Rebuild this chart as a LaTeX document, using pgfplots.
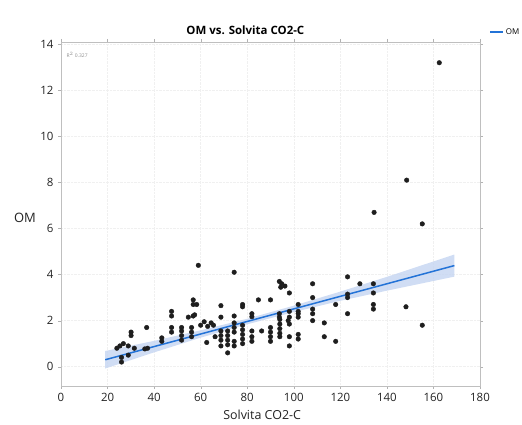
\documentclass[border=0pt]{standalone}
\usepackage{pgfplots}
\pgfplotsset{compat=1.18}
\usepgfplotslibrary{fillbetween}
\usepackage{fontspec}
\setmainfont{Open Sans}
\definecolor{fitblue}{RGB}{35,115,215}
\definecolor{bandblue}{RGB}{200,215,242}
\definecolor{dotc}{RGB}{30,30,30}
\definecolor{tickc}{RGB}{35,35,35}

\begin{document}
\begin{tikzpicture}
\begin{axis}[
  at={(61bp,39bp)}, anchor=south west,
  scale only axis, width=419bp, height=344bp,
  xmin=0, xmax=180, ymin=-0.84, ymax=14.1,
  xtick={0,20,...,180}, ytick={0,2,...,14},
  tick align=outside, major tick length=3bp,
  tick style={black!30},
  axis line style={black!25},
  grid=major, grid style={black!6, densely dotted},
  /pgf/number format/assume math mode=true,
  ticklabel style={font=\fontsize{11.5}{12}\selectfont, text=tickc},
  xticklabel style={yshift=-1bp},
  yticklabel style={xshift=-1bp},
  xlabel={Solvita CO2-C},
  xlabel style={at={(rel axis cs:0.48,-0.085)}, anchor=center, font=\fontsize{12.5}{14}\selectfont, text=tickc},
  ylabel={OM},
  ylabel style={rotate=-90, at={(rel axis cs:-0.086,0.488)}, anchor=center, font=\fontsize{13}{14}\selectfont, text=tickc},
  title={OM vs. Solvita CO2-C},
  title style={at={(rel axis cs:0.44,1)}, anchor=south, yshift=0bp, inner sep=1.5bp, font=\bfseries\fontsize{11.5}{12}\selectfont},
  legend style={at={(rel axis cs:1.022,1.029)}, anchor=west, draw=none, fill=none, font=\fontsize{8}{9}\selectfont, inner sep=0pt},
  legend image code/.code={\draw[#1] (0bp,0bp) -- (13bp,0bp);},
  clip=false,
]
% confidence band
\addplot[name path=upper, draw=none, forget plot] coordinates {
  (19,0.68) (40,1.12) (60,1.58) (80,2.08) (100,2.65) (120,3.26) (140,3.90) (169,4.87)};
\addplot[name path=lower, draw=none, forget plot] coordinates {
  (19,-0.08) (40,0.62) (60,1.26) (80,1.84) (100,2.37) (120,2.86) (140,3.30) (169,3.91)};
\addplot[bandblue, fill opacity=0.85, forget plot] fill between[of=upper and lower];
% data
\addplot[only marks, mark=*, mark size=2.3bp, mark options={fill=dotc, draw=dotc}, forget plot] coordinates {
 (24,0.8) (25.3,0.9) (26.8,1.0) (26,0.4) (26,0.2) (28.9,0.9) (28.9,0.5) (30.1,1.5) (30.1,1.35)
 (31.5,0.8) (36.8,1.7) (36,0.77) (37.2,0.8) (43.3,1.25) (43.3,1.1)
 (47.5,2.4) (47.5,2.2) (47.5,1.7) (47.5,1.5) (51.8,1.7) (51.8,1.55) (51.8,1.35) (51.8,1.15)
 (54.7,2.15) (56.8,2.2) (56.8,2.9) (56.8,2.7) (56.1,1.7) (56.1,1.5) (56.1,1.3) (57.4,2.25)
 (58.3,2.7) (59,4.4)
 (60,1.8) (61.5,1.95) (63,1.75) (64.5,1.9) (65.5,1.8) (62.6,1.05) (66.2,1.3)
 (68.7,2.65) (68.7,2.15) (68.7,1.55) (68.7,1.35) (68.7,1.15) (68.7,0.9)
 (71.6,1.55) (71.6,1.35) (71.6,1.15) (71.6,0.95) (71.6,0.6)
 (74.4,4.1) (74.4,2.2) (74.4,1.9) (74.4,1.7) (74.4,1.5) (74.4,1.1) (74.4,0.9)
 (78,2.7) (78,2.6) (78,1.8) (78,1.6) (78,1.4) (78,1.2) (78,1.0)
 (82,2.3) (82,2.17) (82,1.55) (82,1.3) (82,1.1) (84.8,2.9) (86.2,1.55)
 (90,2.9) (90,1.7) (90,1.5) (90,1.3) (90,1.1)
 (93.8,3.7) (94.8,3.6) (94.4,3.45) (93.8,2.3) (93.8,2.15) (94,2.05) (94,1.85) (94,1.65)
 (94,1.45) (94,1.3) (96.2,3.5) (98.1,3.2) (98.1,2.4) (98.1,2.15) (98.1,1.85) (98.1,1.3)
 (98.1,0.9) (97.6,2.0)
 (101.9,2.7) (101.9,2.4) (101.9,2.3) (101.9,2.15) (101.9,1.4) (101.9,1.2)
 (108.1,3.6) (108.1,3.0) (108.1,2.5) (108.1,2.3) (108.1,2.0)
 (113.1,1.9) (113.1,1.3) (118,2.7) (118,1.1)
 (123.1,3.9) (123.1,3.15) (123.1,3.0) (123.1,2.3) (128.4,3.6)
 (134.2,3.6) (134.2,3.2) (134.2,2.7) (134.2,2.5) (134.5,6.7)
 (148.2,2.6) (148.5,8.1) (155.2,6.2) (155.2,1.8) (162.5,13.2)
};
% fit line
\addplot[fitblue, line width=1.5bp] coordinates {(19,0.30) (169,4.39)};
\addlegendentry{OM}
\node[anchor=north west, font=\fontsize{5}{6}\selectfont, text=black!45, inner sep=0pt] at (rel axis cs:0.013,0.972) {R$^2$ 0.327};
\end{axis}
\pgfresetboundingbox
\path[use as bounding box] (0,0) rectangle (522bp,425bp);
\end{tikzpicture}
\end{document}
